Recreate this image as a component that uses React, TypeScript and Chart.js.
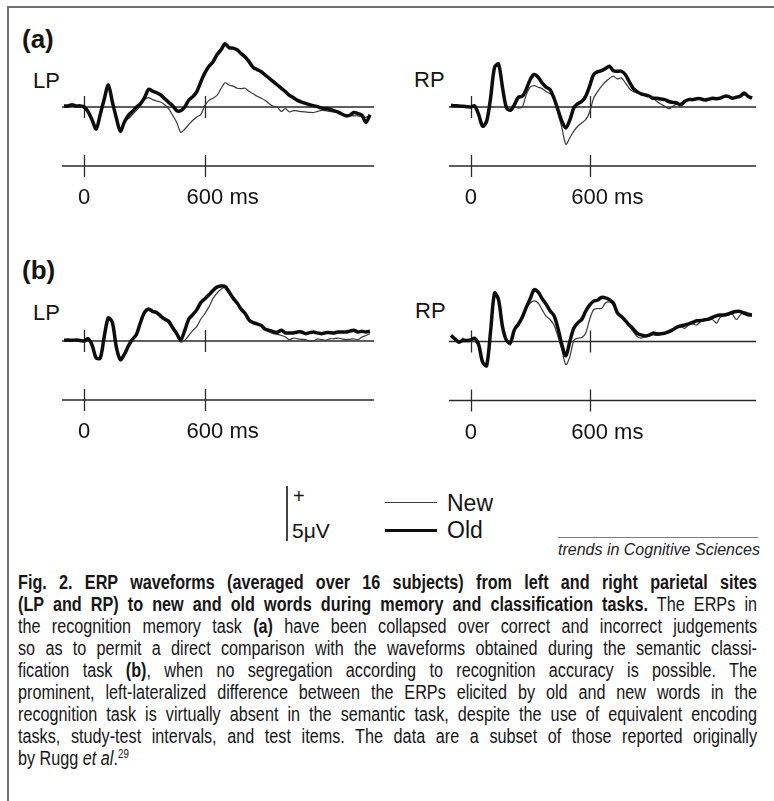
import React, { useEffect, useRef } from "react";
import { Chart, registerables } from "chart.js";

Chart.register(...registerables);

// ---------- data (time in ms, amplitude in microvolts, positive up) ----------
const TIMES = [
  -100, -80, -60, -40, -20, 0, 20, 40, 60, 80,
  100, 120, 140, 160, 180, 200, 220, 240, 260, 280,
  300, 320, 340, 360, 380, 400, 420, 440, 460, 480,
  500, 520, 540, 560, 580, 600, 620, 640, 660, 680,
  700, 720, 740, 760, 780, 800, 820, 840, 860, 880,
  900, 920, 940, 960, 980, 1000, 1020, 1040, 1060, 1080,
  1100, 1120, 1140, 1160, 1180, 1200, 1220, 1240, 1260, 1280,
  1300, 1320, 1340, 1360, 1380, 1400, 1420,
];

// (a) recognition memory task, left parietal
const OLD_A_LP = [
  0.1, 0.1, 0.2, 0.1, 0.1, 0.0, -0.45, -1.2, -2.0, -0.67,
  0.73, 2.0, 0.48, -1.0, -2.2, -1.36, -0.76, -0.4, 0.0, 0.3,
  0.85, 1.6, 1.45, 1.3, 1.1, 0.76, 0.42, 0.1, -0.33, -0.33,
  0.0, 0.64, 0.94, 1.4, 2.3, 3.1, 3.7, 4.1, 4.75, 5.2,
  5.75, 5.4, 5.35, 5.2, 4.85, 4.55, 4.1, 3.6, 3.4, 3.2,
  2.9, 2.6, 2.3, 2.0, 1.7, 1.4, 1.05, 0.85, 0.6, 0.45,
  0.33, 0.2, 0.12, 0.03, -0.1, -0.15, -0.2, -0.33, -0.45, -0.64,
  -0.8, -0.75, -0.5, -0.6, -0.75, -1.4, -0.7,
];
const NEW_A_LP = [
  0.1, 0.1, 0.2, 0.1, 0.1, 0.0, -0.45, -1.2, -2.0, -0.67,
  0.73, 2.0, 0.48, -1.0, -2.1, -1.3, -1.06, -0.7, -0.3, 0.1,
  0.67, 0.85, 0.67, 0.55, 0.45, 0.2, -0.18, -0.76, -1.4, -2.3,
  -2.0, -1.6, -1.2, -0.9, -0.67, 0.15, 0.6, 0.8, 1.06, 1.67,
  2.2, 2.0, 1.9, 1.7, 1.67, 1.7, 1.4, 1.2, 0.97, 0.8,
  0.6, 0.3, 0.06, -0.03, -0.4, -0.15, -0.45, -0.33, -0.36, -0.42,
  -0.45, -0.48, -0.5, -0.4, -0.3, -0.33, -0.4, -0.45, -0.5, -0.6,
  -0.7, -0.76, -0.8, -0.8, -0.88, -0.94, -0.76,
];

// (a) recognition memory task, right parietal
const OLD_A_RP = [
  0.15, 0.12, 0.1, 0.06, 0.03, 0.0, 0.1, -0.7, -1.75, -1.3,
  0.82, 3.6, 3.9, 1.8, -0.06, -0.3, 0.2, 0.88, 0.97, 1.6,
  2.5, 2.95, 2.7, 2.2, 1.8, 1.6, 0.8, -0.25, -1.3, -1.9,
  -1.2, -0.1, 0.3, 0.5, 0.97, 1.9, 2.95, 3.2, 3.3, 3.5,
  3.7, 3.3, 3.25, 3.25, 2.95, 2.3, 1.7, 1.4, 1.2, 1.1,
  1.0, 0.8, 0.8, 0.73, 0.67, 0.5, 0.42, 0.36, 0.2, 0.5,
  0.67, 0.67, 0.75, 0.75, 0.64, 0.7, 0.8, 0.75, 0.8, 0.97,
  0.97, 0.8, 0.88, 0.97, 1.27, 0.97, 0.8,
];
const NEW_A_RP = [
  0.15, 0.12, 0.1, 0.06, 0.03, 0.0, 0.1, -0.7, -1.75, -1.3,
  0.82, 3.6, 3.9, 1.8, -0.06, -0.3, 0.0, -0.1, 0.0, 1.1,
  1.8, 1.95, 1.8, 1.67, 1.4, 1.2, 0.88, -0.55, -1.9, -3.4,
  -2.8, -2.2, -1.75, -1.45, -1.15, -0.45, 0.8, 1.4, 1.9, 2.3,
  2.6, 2.8, 2.55, 2.65, 2.2, 1.7, 1.4, 1.27, 1.2, 1.1,
  0.97, 0.8, 0.5, 0.27, 0.06, -0.15, 0.06, 0.27, 0.36, 0.5,
  0.6, 0.67, 0.7, 0.72, 0.64, 0.7, 0.75, 0.78, 0.8, 0.9,
  0.95, 0.85, 0.85, 0.95, 1.1, 1.0, 0.8,
];

// (b) semantic classification task, left parietal
const OLD_B_LP = [
  0.06, 0.08, 0.06, 0.1, 0.05, 0.0, 0.2, -0.4, -1.55, -1.55,
  0.42, 2.1, 1.7, -0.55, -1.7, -1.2, -0.45, 0.15, 0.6, 1.7,
  2.6, 2.9, 2.7, 2.6, 2.27, 2.0, 1.8, 1.2, 0.67, 0.1,
  0.97, 2.0, 2.4, 2.85, 3.5, 3.85, 4.2, 4.6, 4.9, 5.0,
  4.97, 4.45, 3.9, 3.45, 2.9, 2.5, 1.9, 1.67, 1.55, 1.42,
  1.06, 0.97, 0.85, 0.79, 0.97, 0.73, 0.73, 0.73, 0.82, 0.82,
  0.67, 0.76, 0.82, 0.73, 0.67, 0.76, 0.76, 0.73, 0.82, 0.82,
  0.82, 0.9, 0.97, 0.82, 0.88, 0.82, 0.88,
];
const NEW_B_LP = [
  0.06, 0.08, 0.06, 0.1, 0.05, 0.0, 0.2, -0.4, -1.55, -1.55,
  0.42, 2.1, 1.7, -0.55, -1.7, -1.2, -0.45, 0.15, 0.6, 1.6,
  2.5, 2.8, 2.6, 2.5, 2.2, 1.9, 1.6, 1.2, 0.5, -0.1,
  0.06, 0.5, 0.97, 1.33, 2.0, 2.5, 3.1, 3.85, 4.35, 4.7,
  4.9, 4.4, 3.9, 3.4, 2.9, 2.5, 1.9, 1.6, 1.5, 1.35,
  1.05, 0.82, 0.67, 0.6, 0.5, 0.36, 0.12, 0.27, 0.2, 0.15,
  0.12, -0.03, 0.0, 0.2, 0.12, 0.06, 0.2, 0.2, 0.27, 0.2,
  0.12, 0.15, 0.2, 0.12, 0.36, 0.5, 0.67,
];

// (b) semantic classification task, right parietal
const OLD_B_RP = [
  0.55, 0.24, -0.06, 0.09, 0.09, 0.15, 0.3, -0.3, -1.9, -2.2,
  0.94, 4.4, 3.8, 1.36, 0.12, -0.1, 1.06, 1.57, 2.2, 3.1,
  3.9, 4.7, 4.5, 3.9, 3.4, 2.8, 2.36, 1.2, -0.3, -1.3,
  0.0, 1.2, 1.7, 2.0, 2.75, 3.3, 3.67, 3.75, 4.0, 3.97,
  3.8, 3.5, 2.6, 2.27, 1.9, 1.5, 1.15, 0.73, 0.6, 0.5,
  0.58, 0.76, 0.7, 0.7, 0.76, 0.9, 1.06, 1.3, 1.42, 1.5,
  1.6, 1.73, 1.88, 1.9, 1.97, 2.03, 2.2, 2.33, 2.4, 2.42,
  2.5, 2.64, 2.73, 2.73, 2.58, 2.42, 2.42,
];
const NEW_B_RP = [
  0.4, 0.15, -0.15, 0.3, 0.0, 0.0, 0.0, -0.45, -1.9, -2.2,
  0.8, 4.3, 3.6, 1.2, 0.0, -0.3, 1.0, 1.6, 2.2, 3.0,
  3.5, 3.7, 3.5, 2.9, 2.3, 2.0, 1.5, 0.45, -0.76, -2.1,
  -1.4, 0.1, 0.3, 0.36, 0.76, 2.0, 2.9, 3.0, 3.0, 3.5,
  3.6, 3.33, 2.6, 2.3, 1.9, 1.4, 0.9, 0.45, 0.3, 0.45,
  0.5, 0.6, 0.55, 0.65, 0.7, 0.8, 1.0, 1.2, 1.35, 1.2,
  1.5, 1.6, 1.5, 1.8, 1.9, 1.95, 2.0, 1.67, 2.2, 2.3,
  2.4, 2.5, 2.0, 2.4, 2.7, 2.6, 2.5,
];

const TICK_VALUES = [0, 600];
const TICK_LABELS = ["0", "600"];
const TICK_UNITS = ["", " ms"];
const SERIES_LABELS = ["Old", "New"];

// ---------- styling ----------
const UV_PX = 11; // pixels per microvolt (5 µV calibration bar = 55 px)
const X_MIN = -110;
const X_MAX = 1440;
const SANS = '"Liberation Sans", Arial, Helvetica, sans-serif';
const CAPTION_SCALE = 0.81;

const erpAxesPlugin = {
  id: "erpAxes",
  beforeDatasetsDraw(chart: any) {
    const { ctx, chartArea, scales } = chart;
    const xs = scales.x;
    const ys = scales.y;
    const base = ys.getPixelForValue(0);
    const axisY = base + 59;
    const labelY = base + 91;
    ctx.save();
    ctx.strokeStyle = "#2a2a2a";
    ctx.lineWidth = 1.3;
    ctx.beginPath();
    ctx.moveTo(chartArea.left, base);
    ctx.lineTo(chartArea.right, base);
    ctx.moveTo(chartArea.left, axisY);
    ctx.lineTo(chartArea.right, axisY);
    TICK_VALUES.forEach((v) => {
      const x = Math.round(xs.getPixelForValue(v)) + 0.5;
      ctx.moveTo(x, base - 11);
      ctx.lineTo(x, base + 11);
      ctx.moveTo(x, axisY - 11);
      ctx.lineTo(x, axisY + 11);
    });
    ctx.stroke();
    ctx.fillStyle = "#141414";
    ctx.font = `22px ${SANS}`;
    ctx.textBaseline = "middle";
    TICK_VALUES.forEach((v, i) => {
      const x = xs.getPixelForValue(v);
      const num = TICK_LABELS[i];
      const w = ctx.measureText(num).width;
      ctx.textAlign = "left";
      ctx.fillText(num + TICK_UNITS[i], x - w / 2, labelY);
    });
    ctx.restore();
  },
};

type PanelProps = {
  left: number;
  top: number;
  width: number;
  height: number;
  base: number;
  oldVals: number[];
  newVals: number[];
};

function Panel({ left, top, width, height, base, oldVals, newVals }: PanelProps) {
  const ref = useRef<HTMLCanvasElement>(null);
  useEffect(() => {
    const yMax = (base - top) / UV_PX;
    const yMin = yMax - height / UV_PX;
    const toPts = (vals: number[]) => TIMES.map((t, i) => ({ x: t, y: vals[i] }));
    const chart = new Chart(ref.current as HTMLCanvasElement, {
      type: "line",
      data: {
        datasets: [
          {
            label: SERIES_LABELS[0],
            data: toPts(oldVals),
            borderColor: "#0d0d0d",
            borderWidth: 3.5,
            pointRadius: 0,
            tension: 0.3,
            fill: false,
          },
          {
            label: SERIES_LABELS[1],
            data: toPts(newVals),
            borderColor: "#3a3a3a",
            borderWidth: 1.2,
            pointRadius: 0,
            tension: 0.3,
            fill: false,
          },
        ],
      },
      options: {
        responsive: false,
        animation: false,
        events: [],
        layout: { padding: 0 },
        scales: {
          x: { type: "linear", min: X_MIN, max: X_MAX, display: false },
          y: { type: "linear", min: yMin, max: yMax, display: false },
        },
        plugins: { legend: { display: false }, tooltip: { enabled: false } },
      },
      plugins: [erpAxesPlugin],
    } as any);
    return () => chart.destroy();
  }, []);
  return (
    <canvas
      ref={ref}
      width={width}
      height={height}
      style={{ position: "absolute", left, top, width, height, display: "block" }}
    />
  );
}

function Label({ x, cy, children, size = 22, bold = false, style = {} }: any) {
  return (
    <div
      style={{
        position: "absolute",
        left: x,
        top: cy,
        transform: "translateY(-50%)",
        fontFamily: SANS,
        fontSize: size,
        lineHeight: `${size}px`,
        fontWeight: bold ? 700 : 400,
        color: "#141414",
        whiteSpace: "nowrap",
        ...style,
      }}
    >
      {children}
    </div>
  );
}

const CAPTION_LINES: React.ReactNode[] = [
  <b>Fig. 2. ERP waveforms (averaged over 16 subjects) from left and right parietal sites</b>,
  <>
    <b>(LP and RP) to new and old words during memory and classification tasks.</b> The ERPs in
  </>,
  <>
    the recognition memory task <b>(a)</b> have been collapsed over correct and incorrect judgements
  </>,
  <>so as to permit a direct comparison with the waveforms obtained during the semantic classi-</>,
  <>
    fication task <b>(b)</b>, when no segregation according to recognition accuracy is possible. The
  </>,
  <>prominent, left-lateralized difference between the ERPs elicited by old and new words in the</>,
  <>recognition task is virtually absent in the semantic task, despite the use of equivalent encoding</>,
  <>tasks, study-test intervals, and test items. The data are a subset of those reported originally</>,
  <>
    by Rugg <i>et al</i>.<sup style={{ fontSize: 12, verticalAlign: "7px", lineHeight: 0 }}>29</sup>
  </>,
];

export default function App() {
  return (
    <div
      style={{
        position: "absolute",
        left: 0,
        top: 0,
        width: 774,
        height: 801,
        background: "#fff",
        overflow: "hidden",
      }}
    >
      {/* frame */}
      <div
        style={{
          position: "absolute",
          left: 7,
          top: 6,
          width: 780,
          height: 810,
          borderLeft: "2px solid #707070",
          borderTop: "2px solid #707070",
        }}
      />

      <Label x={22} cy={38.5} size={26} bold>
        (a)
      </Label>
      <Label x={33} cy={80.5}>LP</Label>
      <Label x={414} cy={79.5}>RP</Label>
      <Label x={22} cy={269.5} size={26} bold>
        (b)
      </Label>
      <Label x={33} cy={312.5}>LP</Label>
      <Label x={415} cy={311}>RP</Label>

      <Panel left={62} top={28} width={312} height={200} base={107} oldVals={OLD_A_LP} newVals={NEW_A_LP} />
      <Panel left={449} top={28} width={307} height={200} base={107} oldVals={OLD_A_RP} newVals={NEW_A_RP} />
      <Panel left={62} top={262} width={312} height={200} base={341} oldVals={OLD_B_LP} newVals={NEW_B_LP} />
      <Panel left={449} top={262} width={307} height={200} base={341.5} oldVals={OLD_B_RP} newVals={NEW_B_RP} />

      {/* calibration bar and legend */}
      <div style={{ position: "absolute", left: 286, top: 486, width: 2, height: 55, background: "#444" }} />
      <Label x={293} cy={496} size={20}>+</Label>
      <Label x={292} cy={530} size={21}>5μV</Label>
      <div style={{ position: "absolute", left: 385, top: 502, width: 52, height: 1.3, background: "#3a3a3a" }} />
      <div style={{ position: "absolute", left: 385, top: 529, width: 52, height: 3.4, background: "#0d0d0d" }} />
      <Label x={447} cy={503} size={23}>{SERIES_LABELS[1]}</Label>
      <Label x={447} cy={530} size={23}>{SERIES_LABELS[0]}</Label>

      {/* journal mark */}
      <div
        style={{
          position: "absolute",
          left: 558,
          top: 537,
          width: 200,
          borderTop: "1px solid #808080",
          paddingTop: 3,
          textAlign: "right",
          fontFamily: SANS,
          fontStyle: "italic",
          fontSize: 16,
          lineHeight: "18px",
          color: "#222",
          whiteSpace: "nowrap",
        }}
      >
        trends in Cognitive Sciences
      </div>

      {/* caption */}
      <div
        style={{
          position: "absolute",
          left: 18,
          top: 571,
          width: 739 / CAPTION_SCALE,
          transform: `scaleX(${CAPTION_SCALE})`,
          transformOrigin: "left top",
          fontFamily: SANS,
          fontSize: 20,
          color: "#161616",
        }}
      >
        {CAPTION_LINES.map((line, i) => (
          <div
            key={i}
            style={{
              height: 22,
              lineHeight: "22px",
              textAlign: i < CAPTION_LINES.length - 1 ? "justify" : "left",
              textAlignLast: i < CAPTION_LINES.length - 1 ? "justify" : "left",
            }}
          >
            {line}
          </div>
        ))}
      </div>
    </div>
  );
}
